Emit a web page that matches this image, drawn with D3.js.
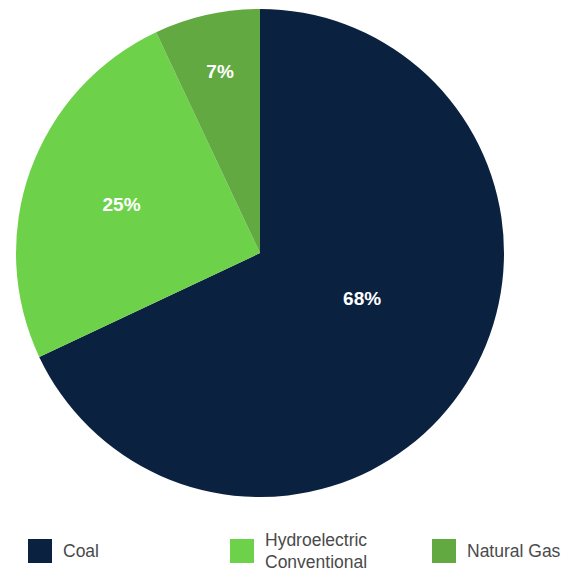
<!DOCTYPE html>
<html>
<head>
<meta charset="utf-8">
<script src="https://cdn.jsdelivr.net/npm/d3@7"></script>
<style>
  body { margin: 0; background: #fff; }
  svg { display: block; font-family: "Liberation Sans", Arial, sans-serif; }
  .sliceLabel { fill: #fff; font-size: 19px; font-weight: 700; }
  .legend { fill: #4a4a4a; font-size: 17.5px; }
</style>
</head>
<body>
<div id="pie"></div>
<script>
const categories = ["Coal", "Hydroelectric Conventional", "Natural Gas"];
const legendLines = [["Coal"], ["Hydroelectric", "Conventional"], ["Natural Gas"]];
const shares = [68, 25, 7];
const colors = ["#0b2140", "#6dd24a", "#62a942"];

let width = 576, height = 573;
let cx = 260, cy = 253, radius = 244;

let svg = d3.select("#pie")
    .append("svg")
    .attr("width", width)
    .attr("height", height);

let data = categories.map((c, i) => ({name: c, value: shares[i], color: colors[i], lines: legendLines[i]}));

let pie = d3.pie()
    .sort(null)
    .value(d => d.value);

let arc = d3.arc()
    .innerRadius(0)
    .outerRadius(radius);

let g = svg.append("g")
    .attr("transform", `translate(${cx}, ${cy})`);

let arcs = pie(data);

g.selectAll(".slice")
    .data(arcs)
    .join("path")
    .attr("class", "slice")
    .attr("d", arc)
    .attr("fill", d => d.data.color);

// labels sit further out for the thinner slices
let labelFrac = [0.458, 0.602, 0.762];
let labelShift = [-8.4, -0.3, 0.2];
g.selectAll(".sliceLabel")
    .data(arcs)
    .join("text")
    .attr("class", "sliceLabel")
    .attr("text-anchor", "middle")
    .attr("dy", "0.35em")
    .attr("transform", (d, i) => {
        let a = (d.startAngle + d.endAngle) / 2 + labelShift[i] * Math.PI / 180;
        let r = radius * labelFrac[i];
        return `translate(${r * Math.sin(a)}, ${-r * Math.cos(a)})`;
    })
    .text(d => d.data.value + "%");

// legend
let legendX = d3.scalePoint()
    .domain(categories)
    .range([28, 432]);

let item = svg.selectAll(".legendItem")
    .data(data)
    .join("g")
    .attr("class", "legendItem")
    .attr("transform", d => `translate(${legendX(d.name)}, 551)`);

item.append("rect")
    .attr("x", 0)
    .attr("y", -12)
    .attr("width", 24)
    .attr("height", 24)
    .attr("fill", d => d.color);

item.append("text")
    .attr("class", "legend")
    .attr("y", d => -(d.lines.length - 1) * 11)
    .selectAll("tspan")
    .data(d => d.lines)
    .join("tspan")
    .attr("x", 35)
    .attr("dy", (d, i) => i === 0 ? "0.36em" : "22px")
    .text(d => d);
</script>
</body>
</html>
